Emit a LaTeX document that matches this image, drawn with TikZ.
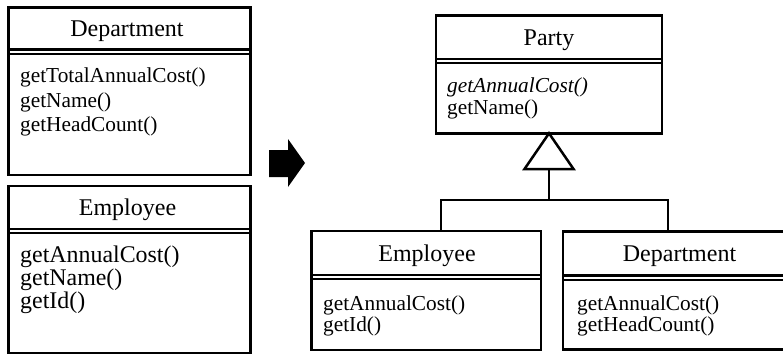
\documentclass[tikz,border=0pt]{standalone}
\usepackage{fontspec}
\setmainfont{Liberation Serif}
\begin{document}
\begin{tikzpicture}[x=1pt,y=-1pt,
  umlbox/.style={draw, line width=2.7pt, inner sep=0pt, outer sep=0pt, anchor=north west},
  divider/.style={line width=2.1pt},
  link/.style={line width=2.5pt},
  classname/.style={inner sep=0pt, anchor=base, font=\fontsize{24}{24}\selectfont},
  opsmall/.style={inner sep=0pt, anchor=base west, font=\fontsize{21.3}{21.3}\selectfont},
  opbig/.style={inner sep=0pt, anchor=base west, font=\fontsize{23.9}{23.9}\selectfont}]
\useasboundingbox (0,0) rectangle (783,354);
\clip (0,0) rectangle (783,354);

% ---- before: two separate classes ----
\node[umlbox, minimum width=241.7pt, minimum height=167.7pt] (deptA) at (8.8,7.3) {};
\draw[divider] (deptA.west |- 0,49.5) -- (deptA.east |- 0,49.5);
\draw[divider] (deptA.west |- 0,54) -- (deptA.east |- 0,54);
\node[classname] (deptAname) at (127,36.5) {Department};
\node[opsmall] (deptAop1) at (20,82.5) {getTotalAnnualCost()};
\node[opsmall] (deptAop2) at (20,107) {getName()};
\node[opsmall] (deptAop3) at (20,131.5) {getHeadCount()};

\node[umlbox, minimum width=241.7pt, minimum height=167pt] (empA) at (8.8,186) {};
\draw[divider] (empA.west |- 0,229) -- (empA.east |- 0,229);
\draw[divider] (empA.west |- 0,233.3) -- (empA.east |- 0,233.3);
\node[classname] (empAname) at (127.5,215.5) {Employee};
\node[opbig] (empAop1) at (20,262) {getAnnualCost()};
\node[opbig] (empAop2) at (20,285) {getName()};
\node[opbig] (empAop3) at (20,308) {getId()};

% ---- refactoring arrow ----
\fill (269,150) -- (288,150) -- (288,139) -- (305,163) -- (288,187) -- (288,177) -- (269,177) -- cycle;

% ---- after: superclass with two subclasses ----
\node[umlbox, minimum width=226pt, minimum height=118pt] (party) at (436,15.3) {};
\draw[divider] (party.west |- 0,58.7) -- (party.east |- 0,58.7);
\draw[divider] (party.west |- 0,62.8) -- (party.east |- 0,62.8);
\node[classname] (partyname) at (549,45) {Party};
\node[opsmall, font=\fontsize{21.3}{21.3}\selectfont\itshape] (partyop1) at (447,92.4) {getAnnualCost()};
\node[opsmall] (partyop2) at (447,114) {getName()};

\node[umlbox, minimum width=229.5pt, minimum height=119pt] (empB) at (311.5,231) {};
\draw[divider] (empB.west |- 0,274.8) -- (empB.east |- 0,274.8);
\draw[divider] (empB.west |- 0,279.2) -- (empB.east |- 0,279.2);
\node[classname] (empBname) at (427,261) {Employee};
\node[opsmall] (empBop1) at (323,310) {getAnnualCost()};
\node[opsmall] (empBop2) at (323,331.7) {getId()};

\node[umlbox, minimum width=233pt, minimum height=118pt] (deptB) at (563,231.5) {};
\draw[divider] (deptB.west |- 0,275.5) -- (deptB.east |- 0,275.5);
\draw[divider] (deptB.west |- 0,279.9) -- (deptB.east |- 0,279.9);
\node[classname] (deptBname) at (679.5,261) {Department};
\node[opsmall] (deptBop1) at (577,310) {getAnnualCost()};
\node[opsmall] (deptBop2) at (577,331.7) {getHeadCount()};

% ---- generalization: hollow triangle and bracket ----
\coordinate (triBase) at (549,169);
\coordinate (empJoin) at (441,200);
\coordinate (deptJoin) at (668,200);
\draw[link, fill=white, line join=miter] (party.south) -- ([xshift=-24.5pt]triBase) -- ([xshift=24.5pt]triBase) -- cycle;
\draw[link] (triBase) -- (triBase |- empJoin);
\draw[link] (empJoin |- empB.north) -- (empJoin) -- (deptJoin) -- (deptJoin |- deptB.north);
\end{tikzpicture}
\end{document}
